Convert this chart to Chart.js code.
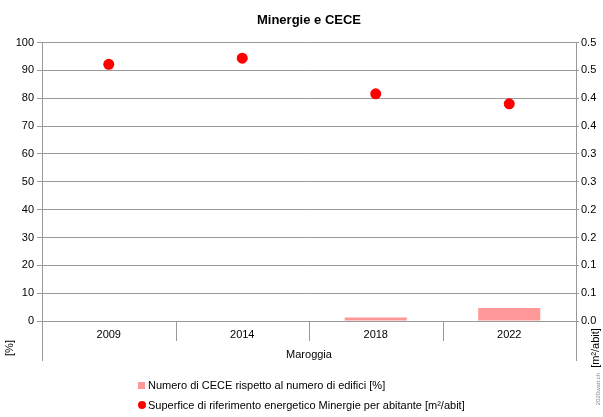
<!DOCTYPE html>
<html>
<head>
<meta charset="utf-8">
<script src="https://cdn.jsdelivr.net/npm/chart.js@4/dist/chart.umd.min.js"></script>
<style>
  html, body { margin: 0; padding: 0; background: #fff; }
  #wrap { position: relative; width: 603px; height: 417px; }
</style>
</head>
<body>
<div id="wrap"><canvas id="minergieChart" width="603" height="417"></canvas></div>
<script>
// Data
const years = ["2009", "2014", "2018", "2022"];
const cecePercent = [0, 0, 1.3, 4.7];              // [%], left axis
const minergieSurface = [0.461, 0.472, 0.408, 0.390]; // [m²/abit], right axis
const rightTickLabels = ["0.0", "0.1", "0.1", "0.2", "0.2", "0.3", "0.3", "0.4", "0.4", "0.5", "0.5"];

const cceLabel = "Numero di CECE rispetto al numero di edifici [%]";
const surfLabel = "Superfice di riferimento energetico Minergie per abitante [m²/abit]";

const FONT = "'Liberation Sans', Arial, sans-serif";
const GRID = "#999999";

Chart.defaults.font.family = FONT;
Chart.defaults.font.size = 11;
Chart.defaults.color = "#000";

// extra texts, divider lines and legend drawn after the chart
const extrasPlugin = {
    id: "extras",
    afterDraw(chart) {
        const ctx = chart.ctx;
        const area = chart.chartArea;
        const x = chart.scales.x;
        const step = x.getPixelForValue(1) - x.getPixelForValue(0);

        ctx.save();
        ctx.strokeStyle = GRID;
        ctx.lineWidth = 1;

        // outer axis lines go down to the group label
        [area.left, area.right].forEach(px => {
            ctx.beginPath();
            ctx.moveTo(Math.round(px) + 0.5, area.bottom);
            ctx.lineTo(Math.round(px) + 0.5, area.bottom + 40);
            ctx.stroke();
        });
        // dividers between years
        for (let i = 1; i < years.length; i++) {
            const px = Math.round(x.getPixelForValue(i) - step / 2) + 0.5;
            ctx.beginPath();
            ctx.moveTo(px, area.bottom);
            ctx.lineTo(px, area.bottom + 20);
            ctx.stroke();
        }

        ctx.fillStyle = "#000";
        ctx.font = "11px " + FONT;
        ctx.textAlign = "center";
        ctx.textBaseline = "middle";
        ctx.fillText("Maroggia", (area.left + area.right) / 2, area.bottom + 34);

        // axis unit labels
        ctx.save();
        ctx.translate(10, 348);
        ctx.rotate(-Math.PI / 2);
        ctx.fillText("[%]", 0, 0);
        ctx.restore();

        ctx.save();
        ctx.translate(596, 348);
        ctx.rotate(-Math.PI / 2);
        ctx.fillText("[m²/abit]", 0, 0);
        ctx.restore();

        ctx.save();
        ctx.translate(598, 389);
        ctx.rotate(-Math.PI / 2);
        ctx.font = "6px " + FONT;
        ctx.fillStyle = "#888";
        ctx.fillText("2020watt.ch", 0, 0);
        ctx.restore();

        // legend
        const ds = chart.data.datasets;
        ctx.textAlign = "left";
        ctx.fillStyle = ds[0].backgroundColor;
        ctx.fillRect(138, 382, 7, 7);
        ctx.fillStyle = "#000";
        ctx.fillText(ds[0].label, 148, 386);

        ctx.fillStyle = ds[1].pointBackgroundColor;
        ctx.beginPath();
        ctx.arc(142, 405, 4, 0, Math.PI * 2);
        ctx.fill();
        ctx.fillStyle = "#000";
        ctx.fillText(ds[1].label, 148, 406);

        ctx.restore();
    }
};

const chart = new Chart(document.getElementById("minergieChart"), {
    type: "bar",
    data: {
        labels: years,
        datasets: [
            {
                label: cceLabel,
                data: cecePercent,
                yAxisID: "y",
                backgroundColor: "#ff9999",
                borderWidth: 0,
                categoryPercentage: 1,
                barPercentage: 0.465,
                order: 2
            },
            {
                type: "line",
                label: surfLabel,
                data: minergieSurface,
                yAxisID: "y1",
                showLine: false,
                pointRadius: 5.5,
                pointBackgroundColor: "#ff0000",
                pointBorderWidth: 0,
                borderColor: "#ff0000",
                order: 1
            }
        ]
    },
    options: {
        responsive: false,
        animation: false,
        layout: {
            padding: { top: 0, left: 0, right: 0, bottom: 56 }
        },
        plugins: {
            legend: { display: false },
            tooltip: { enabled: false },
            title: {
                display: true,
                text: "Minergie e CECE",
                fullSize: false,
                color: "#000",
                font: { size: 13, weight: "bold", family: FONT },
                padding: { top: 13, bottom: 14 }
            }
        },
        scales: {
            x: {
                offset: true,
                grid: { display: false, drawTicks: false, tickLength: 0 },
                border: { display: false },
                ticks: { color: "#000", padding: 7, maxRotation: 0 },
                afterFit(scale) { scale.height = 40; }
            },
            y: {
                position: "left",
                min: 0,
                max: 100,
                ticks: { stepSize: 10, color: "#000", padding: 3 },
                grid: { color: GRID, tickLength: 5 },
                border: { color: GRID },
                afterFit(scale) { scale.width = 42; }
            },
            y1: {
                position: "right",
                min: 0,
                max: 0.5,
                ticks: {
                    stepSize: 0.05,
                    color: "#000",
                    padding: 2,
                    callback: (v, i) => rightTickLabels[i]
                },
                grid: { drawOnChartArea: false, color: GRID, tickLength: 3 },
                border: { color: GRID },
                afterFit(scale) { scale.width = 27; }
            }
        }
    },
    plugins: [extrasPlugin]
});
</script>
</body>
</html>
